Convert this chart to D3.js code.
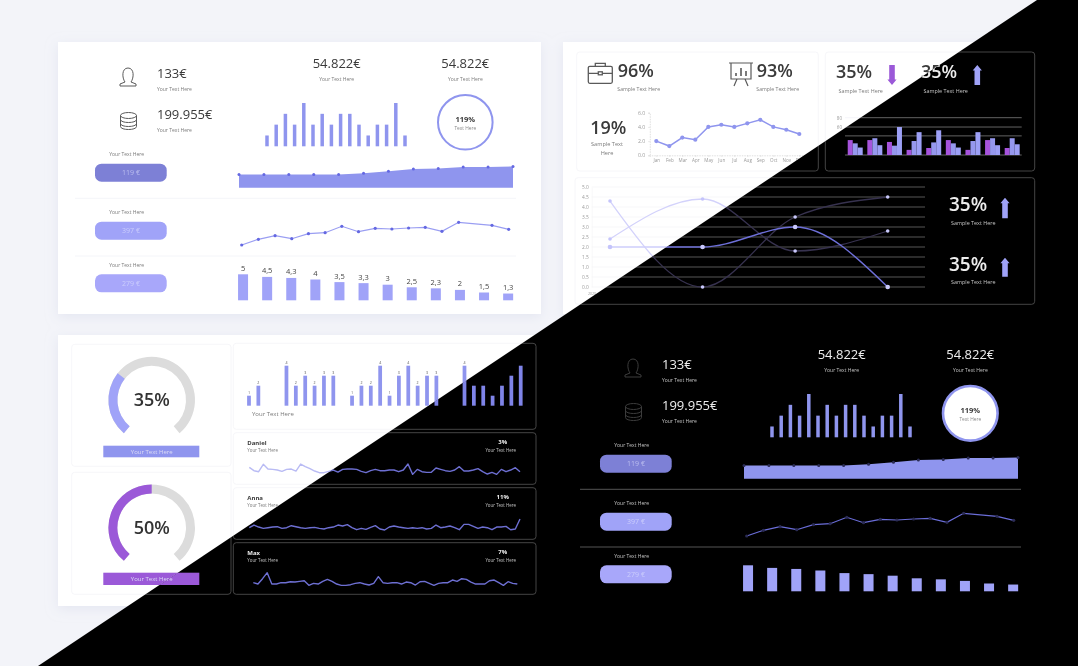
<!DOCTYPE html>
<html lang="en">
<head>
  <meta charset="UTF-8">
  <title>Dashboard light and dark</title>
  <style>
    html, body { margin: 0; padding: 0; background: #f3f4f9; overflow: hidden; }
    svg { display: block; filter: blur(0.5px); }
    text { font-family: "Open Sans", sans-serif; }
    .axis path.domain { stroke-dasharray: 1.5 1; }
  </style>
</head>
<body>
  <svg id="chart" width="1078" height="666"></svg>

  <script src="https://d3js.org/d3.v7.min.js"></script>
  <script>
    // panel A (light top left, dark copy bottom right)
    const topBars = [1, 2, 3, 2, 4, 2, 3, 2, 3, 3, 2, 1, 2, 2, 4, 1];
    const areaValues = [2.5, 2.5, 2.5, 2.5, 2.5, 2.7, 3.1, 3.5, 3.6, 3.9, 3.9, 4.0];
    const trendValues = [5, 10.7, 14.3, 11.3, 16.3, 17.3, 23.7, 18.3, 21.7, 21, 22, 22.7, 18.7, 27.7, null, 24.7, 20.7];
    const rankValues = [5, 4.5, 4.3, 4, 3.5, 3.3, 3, 2.5, 2.3, 2, 1.5, 1.3];
    const rankLabels = ["5", "4,5", "4,3", "4", "3,5", "3,3", "3", "2,5", "2,3", "2", "1,5", "1,3"];
    const pillLabels = ["119 €", "397 €", "279 €"];
    const pillColors = ["#7d80d6", "#a0a3f8", "#a8a7fa"];

    // top right panels
    const months = ["Jan", "Feb", "Mar", "Apr", "May", "Jun", "Jul", "Aug", "Sep", "Oct", "Nov", "Dec"];
    const monthValues = [2, 1.3, 2.5, 2.2, 4, 4.3, 4, 4.5, 5, 4, 3.6, 3];
    const groupPurple = [32, 32, 28, 11, 15, 32, 11, 32, 15];
    const groupMiddle = [25, 36, 20, 30, 27, 25, 30, 36, 36];
    const groupBlue = [16, 21, 60, 49, 53, 16, 49, 21, 23];
    const groupGridLines = [0, 41, 60, 80];
    const curveCats = ["a", "b", "c", "d"];
    const curveOne = [4.3, 0, 3.5, 4.5];
    const curveTwo = [2.4, 4.4, 1.8, 2.8];
    const curveThree = [2, 2, 3, 0];
    const curveTicks = [0, 0.5, 1, 1.5, 2, 2.5, 3, 3.5, 4, 4.5, 5];

    // bottom left panels
    const gaugeValues = [31.5, 50];
    const gaugeLabels = ["35%", "50%"];
    const columnValues = [1, 2, null, null, 4, 2, 3, 2, 3, 3, null, 1, 2, 2, 4, 1, 3, 4, 2, 3, 3, null, null, 4, 2, 2, 1, 2, 3, 4];
    const sparkNames = ["Daniel", "Anna", "Max"];
    const sparkPercents = ["3%", "11%", "7%"];
    const sparkDaniel = [28, 18, 15, 37, 23, 22, 20, 16, 22, 23, 17, 38, 30, 24, 17, 12, 12, 16, 20, 14, 22, 23, 23, 22, 16, 12, 18, 22, 18, 18, 20, 20, 15, 20, 38, 7, 22, 15, 13, 13, 26, 22, 18, 16, 20, 30, 17, 17, 20, 24, 15, 8, 13, 7, 22, 15, 20, 27, 15];
    const sparkAnna = [12, 20, 14, 10, 12, 14, 15, 10, 12, 18, 15, 12, 10, 12, 13, 10, 8, 12, 14, 20, 17, 21, 12, 6, 10, 7, 13, 18, 8, 5, 14, 17, 14, 12, 10, 12, 10, 12, 8, 10, 20, 12, 14, 17, 12, 6, 22, 22, 16, 10, 14, 12, 6, 14, 14, 16, 6, 8, 38];
    const sparkMax = [12, 8, 24, 42, 8, 8, 12, 12, 15, 14, 16, 18, 4, 10, 8, 16, 22, 16, 8, 4, 4, 6, 10, 12, 8, 5, 10, 30, 12, 10, 12, 12, 8, 14, 12, 5, 15, 16, 10, 4, 10, 12, 12, 20, 16, 24, 22, 14, 8, 8, 8, 18, 20, 12, 4, 15, 10, 8];

    const blue = "#8f95ee";
    const lilac = "#a0a3f8";
    const purple = "#9b59d8";

    const lightTheme = { text: "#3a3a3a", sub: "#7a7a7a", tick: "#9a9a9a", border: "#f4f4f8", grid: "#f3f3f7", icon: "#5a5a5a", rule: "#f1f2f7",
      dot: "#6468e2", line: "#9a9ef2", spark: "#b9bbf4", curveDim: "#d3d2fb", curveMain: "#cfd0fc", curveDot: "#c4c4fb", circleFill: "#fff", circleText: "#3a3a3a", axis: "#c9c9c9" };
    const darkTheme = { text: "#eeeeee", sub: "#c4c4c4", tick: "#000", border: "#555", grid: "#7c7c7c", icon: "#3c3c3c", rule: "#6a6a6a",
      dot: "#2b2c55", line: "#6a6dd8", spark: "#6d6fd2", curveDim: "#37324f", curveMain: "#6d6fd8", curveDot: "#c9c8fb", circleFill: "#fff", circleText: "#3a3a3a", axis: "#000" };

    const svg = d3.select("#chart");
    const diagTop = 1037, diagBottom = 38;

    const defs = svg.append("defs");
    defs.append("clipPath").attr("id", "lightClip").append("polygon")
      .attr("points", `0,0 ${diagTop},0 ${diagBottom},666 0,666`);
    defs.append("clipPath").attr("id", "darkClip").append("polygon")
      .attr("points", `${diagTop},0 1078,0 1078,666 ${diagBottom},666`);
    const shadow = defs.append("filter").attr("id", "cardShadow").attr("x", "-5%").attr("y", "-5%").attr("width", "110%").attr("height", "115%");
    shadow.append("feDropShadow").attr("dx", 0).attr("dy", 3).attr("stdDeviation", 6).attr("flood-color", "#d5d8e8").attr("flood-opacity", 0.5);

    function label(g, x, y, str, size, color, anchor, weight) {
      return g.append("text").attr("x", x).attr("y", y).text(str)
        .attr("font-size", size).attr("fill", color)
        .attr("text-anchor", anchor || "start").attr("font-weight", weight || 400);
    }

    function arrow(g, cx, top, bottom, color, down) {
      const h = 5.5;
      const p = down
        ? `M${cx - 2.8},${top}H${cx + 2.8}V${bottom - h}H${cx + 4.6}L${cx},${bottom}L${cx - 4.6},${bottom - h}H${cx - 2.8}Z`
        : `M${cx - 2.8},${bottom}H${cx + 2.8}V${top + h}H${cx + 4.6}L${cx},${top}L${cx - 4.6},${top + h}H${cx - 2.8}Z`;
      g.append("path").attr("d", p).attr("fill", color);
    }

    function personIcon(g, cx, cy, color) {
      const i = g.append("g").attr("transform", `translate(${cx},${cy})`).attr("fill", "none").attr("stroke", color).attr("stroke-width", 1);
      i.append("path").attr("d", "M-3,5C-6,1 -6.5,-9 0,-9C6.5,-9 6,1 3,5L8,7V9H-8V7Z");
    }

    function dbIcon(g, cx, cy, color) {
      const i = g.append("g").attr("transform", `translate(${cx},${cy})`).attr("fill", "none").attr("stroke", color).attr("stroke-width", 1);
      i.append("ellipse").attr("rx", 8).attr("ry", 3).attr("cy", -5.5);
      i.append("path").attr("d", "M-8,-5.5V5.5C-8,9.5 8,9.5 8,5.5V-5.5");
      i.append("path").attr("d", "M-8,-1.5C-8,2.5 8,2.5 8,-1.5M-8,2.5C-8,6.5 8,6.5 8,2.5");
    }

    function caseIcon(g, cx, cy, color) {
      const i = g.append("g").attr("transform", `translate(${cx},${cy})`).attr("fill", "none").attr("stroke", color).attr("stroke-width", 1.3);
      i.append("rect").attr("x", -12).attr("y", -7).attr("width", 24).attr("height", 17).attr("rx", 1.5);
      i.append("path").attr("d", "M-5,-7V-10H5V-7M-12,0H-2M2,0H12");
      i.append("rect").attr("x", -2).attr("y", -1.5).attr("width", 4).attr("height", 3);
    }

    function boardIcon(g, cx, cy, color) {
      const i = g.append("g").attr("transform", `translate(${cx},${cy})`).attr("fill", "none").attr("stroke", color).attr("stroke-width", 1.2);
      i.append("path").attr("d", "M-12,-11H12M-10,-11V5H10V-11M-4,5L-7,12M4,5L7,12");
      i.append("path").attr("d", "M-5,2V-1M0,2V-6M5,2V-3").attr("stroke-width", 1.6);
    }

    // panel A, drawn at its light position and moved for the dark copy
    function drawPanelA(g, t) {
      personIcon(g, 128, 77, t.icon);
      dbIcon(g, 128.5, 121, t.icon);
      label(g, 157, 78, "133€", 13, t.text);
      label(g, 157, 90.5, "Your Text Here", 5, t.sub);
      label(g, 157, 119, "199.955€", 13, t.text);
      label(g, 157, 131.8, "Your Text Here", 5, t.sub);
      [336.7, 465.3].forEach(x => {
        label(g, x, 67.7, "54.822€", 13, t.text, "middle");
        label(g, x, 80.5, "Your Text Here", 5, t.sub, "middle");
      });

      const xBar = d3.scaleBand().domain(d3.range(topBars.length)).range([262.4, 409.6]).paddingInner(0.62).paddingOuter(0.31);
      const yBar = d3.scaleLinear().domain([0, 4]).range([146.3, 103]);
      g.selectAll(".topBar").data(topBars).enter().append("rect").attr("class", "topBar")
        .attr("x", (d, i) => xBar(i)).attr("width", xBar.bandwidth())
        .attr("y", d => yBar(d)).attr("height", d => yBar(0) - yBar(d)).attr("fill", blue);

      g.append("circle").attr("cx", 465.3).attr("cy", 122.3).attr("r", 27.3)
        .attr("fill", t.circleFill).attr("stroke", blue).attr("stroke-width", t === darkTheme ? 2.6 : 2);
      label(g, 465.3, 121.5, "119%", 7.5, t.circleText, "middle", 700);
      label(g, 465.3, 129.5, "Text Here", 4.8, "#888", "middle");

      [154, 211.7, 265].forEach(y => {
        label(g, 126.7, y + 2, "Your Text Here", 5, t.sub, "middle");
      });
      [163.7, 221.7, 274.3].forEach((y, i) => {
        g.append("rect").attr("x", 95).attr("y", y).attr("width", 71.7).attr("height", 18).attr("rx", 6.5).attr("fill", pillColors[i]);
        label(g, 131, y + 11.5, pillLabels[i], 7, i === 0 ? "#bcbeef" : "#cbcdfc", "middle");
      });

      const xArea = d3.scalePoint().domain(d3.range(areaValues.length)).range([239, 513]);
      const yArea = d3.scaleLinear().domain([0, 4]).range([187.7, 166.4]);
      const area = d3.area().x((d, i) => xArea(i)).y0(yArea(0)).y1(d => yArea(d));
      g.append("path").attr("d", area(areaValues)).attr("fill", blue);
      g.selectAll(".areaDot").data(areaValues).enter().append("circle").attr("class", "areaDot")
        .attr("cx", (d, i) => xArea(i)).attr("cy", d => yArea(d)).attr("r", 1.5).attr("fill", t.dot);

      [198.3, 256].forEach(y => {
        g.append("line").attr("x1", 75).attr("x2", 516).attr("y1", y).attr("y2", y).attr("stroke", t.rule).attr("stroke-width", 0.8);
      });

      const xTrend = d3.scalePoint().domain(d3.range(trendValues.length)).range([241.7, 508.7]);
      const yTrend = d3.scaleLinear().domain([0, 30]).range([250, 220]);
      const trend = trendValues.map((d, i) => ({ i: i, v: d })).filter(d => d.v !== null);
      const trendLine = d3.line().x(d => xTrend(d.i)).y(d => yTrend(d.v));
      g.append("path").attr("d", trendLine(trend)).attr("fill", "none").attr("stroke", t.line).attr("stroke-width", 1.2);
      g.selectAll(".trendDot").data(trend).enter().append("circle").attr("class", "trendDot")
        .attr("cx", d => xTrend(d.i)).attr("cy", d => yTrend(d.v)).attr("r", 1.6).attr("fill", t.dot);

      const xRank = d3.scaleBand().domain(d3.range(rankValues.length)).range([231, 520.2]).paddingInner(0.585).paddingOuter(0.2925);
      const yRank = d3.scaleLinear().domain([0, 5]).range([300.3, 274.3]);
      g.selectAll(".rankBar").data(rankValues).enter().append("rect").attr("class", "rankBar")
        .attr("x", (d, i) => xRank(i)).attr("width", xRank.bandwidth())
        .attr("y", d => yRank(d)).attr("height", d => yRank(0) - yRank(d)).attr("fill", lilac);
      if (t === lightTheme) {
        g.selectAll(".rankLabel").data(rankValues).enter().append("text").attr("class", "rankLabel")
          .attr("x", (d, i) => xRank(i) + xRank.bandwidth() / 2).attr("y", d => yRank(d) - 3.5)
          .attr("text-anchor", "middle").attr("font-size", 7.5).attr("fill", "#444")
          .text((d, i) => rankLabels[i]);
      }
    }

    function styleAxis(a, t, size) {
      a.selectAll("text").attr("fill", t.tick).attr("font-size", size).attr("font-family", "'Open Sans', sans-serif");
      a.selectAll(".tick line").attr("stroke", t.axis).attr("stroke-width", 0.5);
      a.select(".domain").attr("stroke", t.axis).attr("stroke-width", 0.6);
    }

    function panel(g, t, x, y, w, h) {
      g.append("rect").attr("x", x).attr("y", y).attr("width", w).attr("height", h).attr("rx", 3)
        .attr("fill", "none").attr("stroke", t.border).attr("stroke-width", 0.8);
    }

    function drawTopRight(g, t) {
      // KPI + month line
      panel(g, t, 576.7, 52, 241.6, 119);
      caseIcon(g, 600.3, 73.3, t.icon);
      label(g, 617.7, 77.3, "96%", 18, t.text, "start", 600);
      label(g, 638.7, 91, "Sample Text Here", 5.2, t.sub, "middle");
      boardIcon(g, 741, 74, t.icon);
      label(g, 756.7, 77.3, "93%", 18, t.text, "start", 600);
      label(g, 777.7, 91, "Sample Text Here", 5.2, t.sub, "middle");
      label(g, 608.3, 134.3, "19%", 18, t.text, "middle", 600);
      label(g, 607, 146, "Sample Text", 5.6, t.sub, "middle");
      label(g, 607, 154.5, "Here", 5.6, t.sub, "middle");

      const xMonth = d3.scalePoint().domain(months).range([649.8, 805.8]).padding(0.5);
      const yMonth = d3.scaleLinear().domain([0, 6]).range([155.3, 112.7]);
      const axLeft = g.append("g").attr("class", "axis").attr("transform", "translate(649.8,0)")
        .call(d3.axisLeft(yMonth).tickValues([0, 2, 4, 6]).tickSize(1.5).tickPadding(3));
      styleAxis(axLeft, t, 5.2);
      const axBottom = g.append("g").attr("class", "axis").attr("transform", "translate(0,155.3)")
        .call(d3.axisBottom(xMonth).tickSize(1.5).tickPadding(2));
      styleAxis(axBottom, t, 4.6);
      const monthLine = d3.line().x((d, i) => xMonth(months[i])).y(d => yMonth(d));
      g.append("path").attr("d", monthLine(monthValues)).attr("fill", "none").attr("stroke", blue).attr("stroke-width", 1.5);
      g.selectAll(".monthDot").data(monthValues).enter().append("circle").attr("class", "monthDot")
        .attr("cx", (d, i) => xMonth(months[i])).attr("cy", d => yMonth(d)).attr("r", 2.1).attr("fill", blue);

      // grouped bars
      panel(g, t, 825.3, 52, 209.4, 119);
      label(g, 836, 78.3, "35%", 18, t.text, "start", 600);
      label(g, 860.7, 92.5, "Sample Text Here", 5.4, t.sub, "middle");
      arrow(g, 892, 65, 85, purple, true);
      label(g, 921, 78.3, "35%", 18, t.text, "start", 600);
      label(g, 945.7, 92.5, "Sample Text Here", 5.4, t.sub, "middle");
      arrow(g, 977.3, 65, 85, lilac, false);

      const xGroup = d3.scaleBand().domain(d3.range(groupPurple.length)).range([845.4, 1022]).paddingInner(0.236).paddingOuter(0.118);
      const xSub = d3.scaleBand().domain([0, 1, 2]).range([0, xGroup.bandwidth()]);
      const yGroup = d3.scaleLinear().domain([0, 80]).range([155, 117.7]);
      const axGroup = g.append("g").attr("transform", "translate(845,0)")
        .call(d3.axisLeft(yGroup).tickValues([60, 80]).tickSize(0).tickPadding(3));
      axGroup.select(".domain").remove();
      axGroup.selectAll("text").attr("fill", t.tick).attr("font-size", 4.5).attr("font-family", "'Open Sans', sans-serif");
      g.selectAll(".groupGrid").data(groupGridLines).enter().append("line").attr("class", "groupGrid")
        .attr("x1", 845).attr("x2", 1021.7).attr("y1", d => yGroup(d)).attr("y2", d => yGroup(d))
        .attr("stroke", t.grid).attr("stroke-width", 0.8);
      [[groupPurple, "#a653dc"], [groupMiddle, "#9698ee"], [groupBlue, "#9da0f6"]].forEach((s, k) => {
        g.selectAll(".groupBar" + k).data(s[0]).enter().append("rect").attr("class", "groupBar" + k)
          .attr("x", (d, i) => xGroup(i) + xSub(k)).attr("width", xSub.bandwidth())
          .attr("y", d => yGroup(d)).attr("height", d => yGroup(0) - yGroup(d)).attr("fill", s[1]);
      });

      // smooth lines
      panel(g, t, 575, 177.7, 459.7, 126.6);
      const xCurve = d3.scalePoint().domain(curveCats).range([610, 887.7]);
      const yCurve = d3.scaleLinear().domain([0, 5]).range([287, 187]);
      g.selectAll(".curveGrid").data(curveTicks).enter().append("line").attr("class", "curveGrid")
        .attr("x1", 591.7).attr("x2", 925).attr("y1", d => yCurve(d)).attr("y2", d => yCurve(d))
        .attr("stroke", t.grid).attr("stroke-width", 0.7);
      const axCurve = g.append("g").attr("transform", "translate(591.7,0)")
        .call(d3.axisLeft(yCurve).tickValues(curveTicks).tickFormat(d3.format(".1f")).tickSize(0).tickPadding(3));
      axCurve.selectAll("text").attr("fill", t.tick).attr("font-size", 4.8).attr("font-family", "'Open Sans', sans-serif");
      axCurve.select(".domain").attr("stroke", t.grid).attr("stroke-width", 0.6);
      label(g, 592, 294.5, "2020", 3.6, t.tick, "middle");

      const curve = d3.line().x((d, i) => xCurve(curveCats[i])).y(d => yCurve(d)).curve(d3.curveMonotoneX);
      [[curveOne, t.curveDim], [curveTwo, t.curveDim], [curveThree, t.curveMain]].forEach((s, k) => {
        g.append("path").attr("d", curve(s[0])).attr("fill", "none").attr("stroke", s[1]).attr("stroke-width", k === 2 ? 1.5 : 1.3);
        g.selectAll(".curveDot" + k).data(s[0]).enter().append("circle").attr("class", "curveDot" + k)
          .attr("cx", (d, i) => xCurve(curveCats[i])).attr("cy", d => yCurve(d)).attr("r", k === 2 ? 2.3 : 1.8).attr("fill", t.curveDot);
      });

      [[211, 224.5, 197.7, 218.3], [270.7, 283.8, 257.7, 276.7]].forEach(r => {
        label(g, 949, r[0], "35%", 19, t.text, "start", 600);
        label(g, 973.3, r[1], "Sample Text Here", 5.4, t.sub, "middle");
        arrow(g, 1005, r[2], r[3], lilac, false);
      });
    }

    function drawBottomLeft(g, t) {
      const gaugeAngle = d3.scaleLinear().domain([0, 100]).range([-140 * Math.PI / 180, 140 * Math.PI / 180]);
      const gaugeArc = d3.arc().innerRadius(34.3).outerRadius(43.3);
      [[344.3, 400, lilac, 445.7, 11.6], [472.3, 527.7, purple, 572.7, 12.3]].forEach((r, i) => {
        panel(g, t, 71.7, r[0], 159.3, 122);
        const a = g.append("g").attr("transform", `translate(151.7,${r[1]})`);
        a.append("path").attr("d", gaugeArc({ startAngle: gaugeAngle(0), endAngle: gaugeAngle(100) })).attr("fill", "#dcdcdc");
        a.append("path").attr("d", gaugeArc({ startAngle: gaugeAngle(0), endAngle: gaugeAngle(gaugeValues[i]) })).attr("fill", r[2]);
        label(a, 0, 6.2, gaugeLabels[i], 18, "#333", "middle", 600);
        g.append("rect").attr("x", 103.3).attr("y", r[3]).attr("width", 96).attr("height", r[4]).attr("fill", i === 0 ? blue : purple);
        label(g, 151.7, r[3] + 8, "Your Text Here", 6, "#dcdcf5", "middle");
      });

      // columns
      panel(g, t, 233.3, 343.3, 302.7, 86);
      const xCol = d3.scaleBand().domain(d3.range(columnValues.length)).range([244.3, 525.4]).paddingInner(0.6).paddingOuter(0.3);
      const yCol = d3.scaleLinear().domain([0, 4]).range([405.7, 365.7]);
      const cols = columnValues.map((d, i) => ({ i: i, v: d })).filter(d => d.v !== null);
      g.selectAll(".col").data(cols).enter().append("rect").attr("class", "col")
        .attr("x", d => xCol(d.i)).attr("width", xCol.bandwidth())
        .attr("y", d => yCol(d.v)).attr("height", d => yCol(0) - yCol(d.v)).attr("fill", t === darkTheme ? "#7f84e8" : blue);
      g.selectAll(".colLabel").data(cols).enter().append("text").attr("class", "colLabel")
        .attr("x", d => xCol(d.i) + xCol.bandwidth() / 2).attr("y", d => yCol(d.v) - 1.8)
        .attr("text-anchor", "middle").attr("font-size", 3.6).attr("fill", t === darkTheme ? "#000" : "#555")
        .text(d => d.v);
      label(g, 252, 416, "Your Text Here", 6, t.sub);

      // sparklines
      const sparks = [sparkDaniel, sparkAnna, sparkMax];
      const sparkRanges = [[249.3, 520], [249.3, 520], [253.3, 517.3]];
      [432.7, 487.7, 542.7].forEach((top, i) => {
        panel(g, t, 233.3, top, 302.7, 51.6);
        label(g, 247.3, top + 11.8, sparkNames[i], 6, t.text, "start", 700);
        label(g, 247.3, top + 19.6, "Your Text Here", 4.4, t.sub);
        label(g, 502.7, top + 11, sparkPercents[i], 6, t.text, "middle", 700);
        label(g, 500.7, top + 19.6, "Your Text Here", 4.4, t.sub, "middle");
        const xs = d3.scaleLinear().domain([0, sparks[i].length - 1]).range(sparkRanges[i]);
        const ys = d3.scaleLinear().domain([0, 80]).range([top + 44, top + 17.3]);
        const sl = d3.line().x((d, j) => xs(j)).y(d => ys(d));
        g.append("path").attr("d", sl(sparks[i])).attr("fill", "none").attr("stroke", t.spark).attr("stroke-width", 1.4)
          .attr("stroke-linejoin", "round");
      });
    }

    // light side
    svg.append("rect").attr("width", 1078).attr("height", 666).attr("fill", "#f3f4f9");
    const cards = svg.append("g").attr("fill", "#fff").attr("filter", "url(#cardShadow)");
    cards.append("rect").attr("x", 58).attr("y", 42).attr("width", 483).attr("height", 272);
    cards.append("rect").attr("x", 563).attr("y", 42).attr("width", 477).attr("height", 272);
    cards.append("rect").attr("x", 58).attr("y", 335).attr("width", 483).attr("height", 271);

    // dark side
    svg.append("polygon").attr("points", `${diagTop},0 1078,0 1078,666 ${diagBottom},666`).attr("fill", "#000");

    drawPanelA(svg.append("g"), lightTheme);
    drawPanelA(svg.append("g").attr("transform", "translate(505,291)"), darkTheme);

    const lightSide = svg.append("g").attr("clip-path", "url(#lightClip)");
    const darkSide = svg.append("g").attr("clip-path", "url(#darkClip)");
    drawTopRight(lightSide, lightTheme);
    drawTopRight(darkSide, darkTheme);
    drawBottomLeft(lightSide, lightTheme);
    drawBottomLeft(darkSide, darkTheme);
  </script>
</body>
</html>
